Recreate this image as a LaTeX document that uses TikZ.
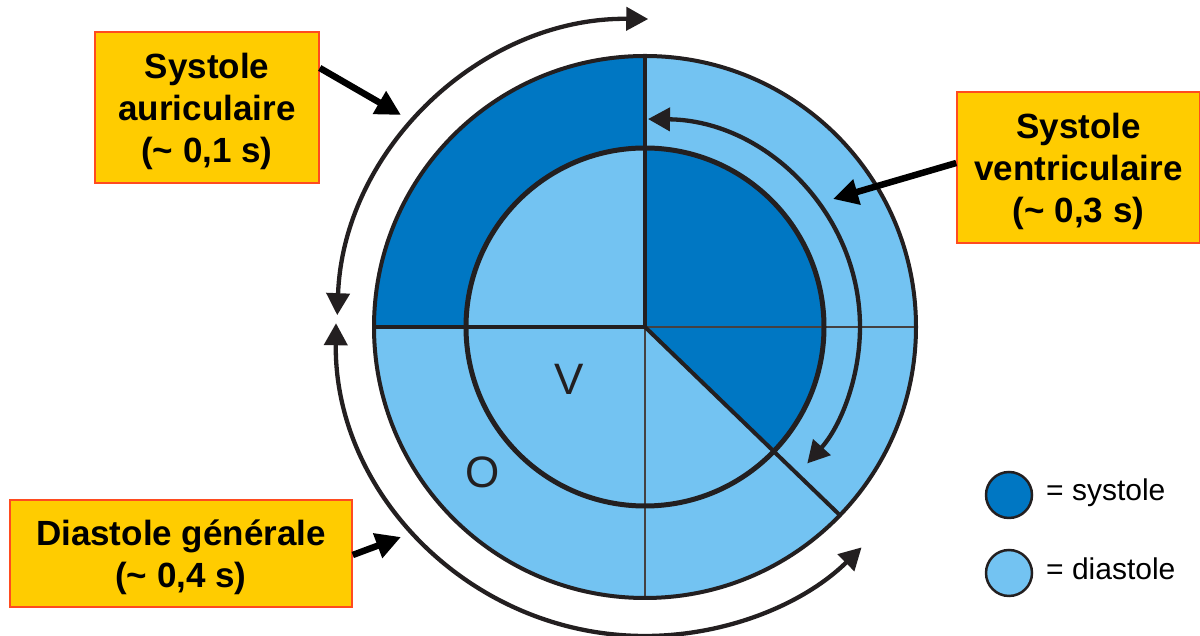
\documentclass[tikz,border=0pt]{standalone}
\usepackage{fontspec}
\setmainfont{Liberation Sans}
\usetikzlibrary{arrows.meta}
\definecolor{sysblue}{HTML}{0077C3}
\definecolor{diablue}{HTML}{73C3F2}
\definecolor{boxfill}{HTML}{FFCC00}
\definecolor{boxline}{HTML}{FF4B1F}
\definecolor{ink}{HTML}{231F20}
\newcommand{\toppad}{\rule{0pt}{34pt}}
\begin{document}
\begin{tikzpicture}[x=1pt,y=1pt,
  label box/.style={draw=boxline, line width=1.5pt, fill=boxfill, align=center,
    font=\bfseries\fontsize{35}{42}\selectfont, inner sep=0pt},
  pointer/.style={line width=6.5pt, black, -{Triangle[length=25pt,width=25pt]}},
  cycle arrow/.style={line width=4.3pt, ink, {Triangle[length=22pt,width=23pt]}-{Triangle[length=22pt,width=23pt]}},
  divider/.style={line width=4pt, ink},
  fine divider/.style={line width=1.3pt, ink!85},
  legend dot/.style={circle, draw=ink, line width=2.5pt, minimum size=46pt, inner sep=0pt},
  legend text/.style={anchor=base west, inner sep=0pt, font=\fontsize{30}{36}\selectfont},
  chamber/.style={inner sep=0pt, ink, font=\fontsize{44}{50}\selectfont}]
\useasboundingbox (0,0) rectangle (1200,636);
\coordinate (C) at (645,309);
% discs
\fill[diablue] (C) circle (271);
\fill[sysblue] (C) -- ([shift={(90:271)}]C) arc[start angle=90, end angle=180, radius=271] -- cycle;
\fill[diablue] (C) circle (179);
\fill[sysblue] (C) -- ([shift={(90:179)}]C) arc[start angle=90, end angle=-44, radius=179] -- cycle;
% dividers
\draw[fine divider] (C) -- ([shift={(0:271)}]C);
\draw[fine divider] (C) -- ([shift={(270:271)}]C);
\draw[divider] (C) -- ([shift={(90:271)}]C);
\draw[divider] (C) -- ([shift={(180:271)}]C);
\draw[divider] (C) -- ([shift={(-44:271)}]C);
\draw[line width=5pt, ink] (C) circle (179);
\draw[line width=4pt, ink] (C) circle (271);
% cycle arrows
\draw[cycle arrow] ([shift={(89.4:308)}]C) arc[start angle=89.4, end angle=177.8, radius=308];
\draw[cycle arrow] ([shift={(179.3:309)}]C) arc[start angle=179.3, end angle=314.5, radius=309];
\draw[cycle arrow] ([shift={(89.2:215 and 208)}]C) arc[start angle=89.2, end angle=-41, x radius=215, y radius=208];
% chamber letters
\node[chamber] (v) at (569,257) {V};
\node[chamber] (o) at (483,164) {O};
% label boxes
\node[label box, minimum width=224pt, minimum height=151pt] (b1) at (207,528.5) {\toppad Systole\\auriculaire\\(\textasciitilde{} 0,1 s)};
\node[label box, minimum width=243pt, minimum height=151pt] (b2) at (1078.5,468.5) {\toppad Systole\\ventriculaire\\(\textasciitilde{} 0,3 s)};
\node[label box, minimum width=342pt, minimum height=107pt] (b3) at (181,82.5) {\toppad Diastole générale\\(\textasciitilde{} 0,4 s)};
% pointers
\coordinate (t1) at (401,521);
\coordinate (t2) at (833,437);
\coordinate (t3) at (401,99);
\draw[pointer] ([yshift=39.5pt]b1.east) -- (t1);
\draw[pointer] ([yshift=4.5pt]b2.west) -- (t2);
\draw[pointer] ([yshift=-1.5pt]b3.east) -- (t3);
% legend
\node[legend dot, fill=sysblue] (l1) at (1009,141) {};
\node[legend dot, fill=diablue] (l2) at (1009,63) {};
\node[legend text] (l1t) at (1046,135) {= systole};
\node[legend text] (l2t) at (1046,56) {= diastole};
\end{tikzpicture}
\end{document}
